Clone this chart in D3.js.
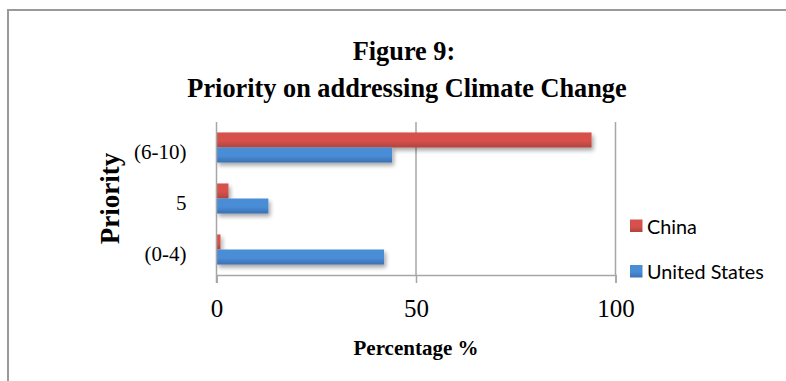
<!DOCTYPE html>
<html>
<head>
<meta charset="utf-8">
<script src="https://cdn.jsdelivr.net/npm/d3@7"></script>
<style>
  html, body { margin: 0; padding: 0; background: #fff; }
  svg { display: block; }
</style>
</head>
<body>
<script>
// Survey shares by priority rating
const categories = ["(0-4)", "5", "(6-10)"];
const seriesNames = ["China", "United States"];
const chinaValues = [1, 3, 94];
const usValues = [42, 13, 44];
const xTicks = [0, 50, 100];

const W = 786, H = 381;
const plot = { left: 216.5, right: 615.5, top: 122, bottom: 275 };

const svg = d3.select("body").append("svg").attr("width", W).attr("height", H);
const defs = svg.append("defs");

// Bar fills with a soft top-to-bottom shading
function grad(id, top, bottom) {
  const g = defs.append("linearGradient").attr("id", id)
    .attr("x1", 0).attr("y1", 0).attr("x2", 0).attr("y2", 1);
  g.append("stop").attr("offset", "0%").attr("stop-color", top);
  g.append("stop").attr("offset", "55%").attr("stop-color", top);
  g.append("stop").attr("offset", "100%").attr("stop-color", bottom);
}
grad("gChina", "#D7514C", "#B0433F");
grad("gUS", "#4A8DD7", "#3A70B2");

const shadow = defs.append("filter").attr("id", "shadow")
  .attr("x", "-5%").attr("y", "-30%").attr("width", "115%").attr("height", "190%");
shadow.append("feGaussianBlur").attr("in", "SourceAlpha").attr("stdDeviation", 2.2);
shadow.append("feOffset").attr("dx", 1.5).attr("dy", 3).attr("result", "off");
shadow.append("feComponentTransfer").append("feFuncA").attr("type", "linear").attr("slope", 0.35);
const merge = shadow.append("feMerge");
merge.append("feMergeNode");
merge.append("feMergeNode").attr("in", "SourceGraphic");

// Chart frame
svg.append("path")
  .attr("d", `M8,${H + 2} L8,10 L${W + 2},10`)
  .attr("fill", "none").attr("stroke", "#9a9a9a").attr("stroke-width", 2);

// Title
const title = svg.append("text")
  .attr("text-anchor", "middle")
  .attr("font-family", "'Liberation Serif', 'Times New Roman', serif")
  .attr("font-weight", "bold").attr("font-size", 26.3).attr("fill", "#000");
title.append("tspan").attr("x", 404).attr("y", 60).text("Figure 9:");
title.append("tspan").attr("x", 407).attr("y", 97).text("Priority on addressing Climate Change");

// Scales
const x = d3.scaleLinear().domain([0, 100]).range([plot.left, plot.right]);
const y = d3.scaleBand().domain(categories.slice().reverse())
  .range([plot.top, plot.bottom]).paddingInner(0.41).paddingOuter(0.205);
const sub = d3.scaleBand().domain(seriesNames).range([0, y.bandwidth()]);

// Vertical gridlines
svg.append("g").selectAll("line").data(xTicks.filter(d => d > 0)).join("line")
  .attr("x1", d => x(d)).attr("x2", d => x(d))
  .attr("y1", plot.top).attr("y2", plot.bottom)
  .attr("stroke", "#a6a6a6").attr("stroke-width", 1.5);

// Bars
const rows = categories.map((c, i) => ({ cat: c, China: chinaValues[i], "United States": usValues[i] }));
const fills = { "China": "url(#gChina)", "United States": "url(#gUS)" };
const barG = svg.append("g").attr("filter", "url(#shadow)");
rows.forEach(r => {
  seriesNames.forEach(s => {
    barG.append("rect")
      .attr("x", x(0))
      .attr("y", y(r.cat) + sub(s))
      .attr("width", x(r[s]) - x(0))
      .attr("height", sub.bandwidth())
      .attr("fill", fills[s]);
  });
});

// X axis
const xAxis = svg.append("g").attr("transform", `translate(0,${plot.bottom})`)
  .call(d3.axisBottom(x).tickValues(xTicks).tickSize(8).tickPadding(16));
xAxis.select(".domain").attr("stroke", "#a6a6a6").attr("stroke-width", 1.5);
xAxis.selectAll(".tick line").attr("stroke", "#a6a6a6").attr("stroke-width", 1.5);
xAxis.selectAll(".tick text")
  .attr("font-family", "'Liberation Serif', 'Times New Roman', serif")
  .attr("font-size", 25).attr("fill", "#000");

// Y axis
const yAxis = svg.append("g").attr("transform", `translate(${plot.left},0)`)
  .call(d3.axisLeft(y).tickSize(0).tickPadding(30));
yAxis.select(".domain").attr("stroke", "#a6a6a6").attr("stroke-width", 1.5)
  .attr("d", `M0,${plot.top}V${plot.bottom + 8}`);
yAxis.selectAll(".tick text")
  .attr("font-family", "'Liberation Serif', 'Times New Roman', serif")
  .attr("font-size", 21).attr("fill", "#000")
  .attr("y", 5);

// Axis titles
svg.append("text")
  .attr("x", (plot.left + plot.right) / 2).attr("y", 355)
  .attr("text-anchor", "middle")
  .attr("font-family", "'Liberation Serif', 'Times New Roman', serif")
  .attr("font-weight", "bold").attr("font-size", 21)
  .text("Percentage %");

svg.append("text")
  .attr("transform", `translate(119,${(plot.top + plot.bottom) / 2}) rotate(-90)`)
  .attr("text-anchor", "middle")
  .attr("font-family", "'Liberation Serif', 'Times New Roman', serif")
  .attr("font-weight", "bold").attr("font-size", 27)
  .text("Priority");

// Legend
const legend = svg.append("g");
const legendY = [219.5, 265];
seriesNames.forEach((s, i) => {
  legend.append("rect").attr("x", 630).attr("y", legendY[i])
    .attr("width", 12.5).attr("height", 12.5).attr("fill", fills[s]);
  legend.append("text").attr("x", 647).attr("y", legendY[i] + 14)
    .attr("font-family", "Lato, 'Open Sans', sans-serif")
    .attr("font-size", 19.8).attr("fill", "#000").text(s);
});
</script>
</body>
</html>
